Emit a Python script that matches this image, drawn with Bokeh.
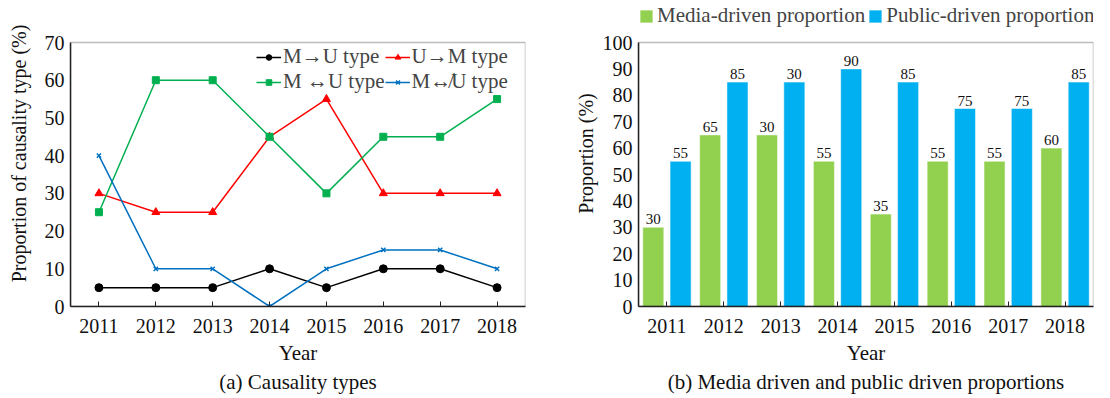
from bokeh.plotting import figure
from bokeh.layouts import row
from bokeh.models import (ColumnDataSource, FixedTicker, Legend, LegendItem,
                          Range1d, FactorRange, Title, BoxAnnotation)
from bokeh.transform import dodge
from bokeh.embed import file_html
from bokeh.resources import INLINE

# ---- data -------------------------------------------------------------
years = [2011, 2012, 2013, 2014, 2015, 2016, 2017, 2018]

m_to_u = [5, 5, 5, 10, 5, 10, 10, 5]
u_to_m = [30, 25, 25, 45, 55, 30, 30, 30]
m_bi_u = [25, 60, 60, 45, 30, 45, 45, 55]
m_nbi_u = [40, 10, 10, 0, 10, 15, 15, 10]

media_driven = [30, 65, 65, 55, 35, 55, 55, 60]
public_driven = [55, 85, 85, 90, 85, 75, 75, 85]
media_labels = ["30", "65", "30", "55", "35", "55", "55", "60"]
public_labels = ["55", "85", "30", "90", "85", "75", "75", "85"]

y_ticks_a = [0, 10, 20, 30, 40, 50, 60, 70]
y_ticks_b = [0, 10, 20, 30, 40, 50, 60, 70, 80, 90, 100]

FONT = "Liberation Serif"
INK = "#111111"
W, H = 555, 398
BOTTOM = 92            # space under each frame for ticks, axis title and caption
FRAME_H = H - BOTTOM   # frames run from the very top of each figure
BOX_H = 264            # pixel height of the boxed data area


def style_axes(p, y_max, ylab_standoff):
    for ax in (p.xaxis[0], p.yaxis[0]):
        ax.axis_line_color = "#222222"
        ax.axis_line_width = 1.5
        ax.major_label_text_font = FONT
        ax.major_label_text_font_size = "20px"
        ax.major_label_text_color = INK
        ax.axis_label_text_font = FONT
        ax.axis_label_text_font_size = "20px"
        ax.axis_label_text_font_style = "normal"
        ax.axis_label_text_color = INK
        ax.minor_tick_line_color = None
    p.xaxis.axis_label_text_font_size = "21px"
    p.xaxis.major_tick_in = 5
    p.xaxis.major_tick_out = 0
    p.xaxis.major_tick_line_color = "#222222"
    p.xaxis.major_label_standoff = 12
    p.xaxis.axis_label_standoff = 5
    p.yaxis.major_tick_line_color = None
    p.yaxis.major_tick_in = 0
    p.yaxis.major_tick_out = 0
    p.yaxis.major_label_standoff = 6
    p.yaxis.axis_label_standoff = ylab_standoff
    p.yaxis.bounds = (0, y_max)
    p.outline_line_color = None
    p.xgrid.grid_line_color = None
    p.ygrid.grid_line_color = None
    # boxed plotting area between 0 and the top tick
    p.add_layout(BoxAnnotation(bottom=0, top=y_max, fill_alpha=0,
                               line_color="#222222", line_width=1.5))


def caption(p, text):
    p.add_layout(Title(text=text, align="center", text_font=FONT,
                       text_font_size="21px", text_font_style="normal",
                       text_color=INK, standoff=0, offset=0), "below")


# ---- (a) line chart ---------------------------------------------------
ya_top = y_ticks_a[-1] * FRAME_H / BOX_H
pa = figure(width=W, height=H, output_backend="svg", toolbar_location=None,
            x_range=Range1d(2010.5, 2018.5), y_range=Range1d(0, ya_top),
            min_border_left=70, min_border_right=30, min_border_top=0,
            min_border_bottom=BOTTOM, background_fill_color="white",
            border_fill_color="white")
style_axes(pa, y_ticks_a[-1], 12)
pa.xaxis.ticker = FixedTicker(ticks=years)
pa.yaxis.ticker = FixedTicker(ticks=y_ticks_a)
pa.xaxis.axis_label = "Year"
pa.yaxis.axis_label = "Proportion of causality type (%)"

src_a = ColumnDataSource(dict(year=years, a=m_to_u, b=u_to_m, c=m_bi_u, d=m_nbi_u))

l1 = pa.line("year", "a", source=src_a, color="black", line_width=1.5)
s1 = pa.scatter("year", "a", source=src_a, marker="circle", size=8, color="black")
l2 = pa.line("year", "b", source=src_a, color="#FF0000", line_width=1.5)
s2 = pa.scatter("year", "b", source=src_a, marker="triangle", size=8, color="#FF0000")
l3 = pa.line("year", "c", source=src_a, color="#00B050", line_width=1.5)
s3 = pa.scatter("year", "c", source=src_a, marker="square", size=7, color="#00B050")
l4 = pa.line("year", "d", source=src_a, color="#0070C0", line_width=1.5)
s4 = pa.scatter("year", "d", source=src_a, marker="x", size=6, color="#0070C0",
                line_width=1.5)

# items are filled column by column: left column first, then right column
leg_a = Legend(items=[
    LegendItem(label="M\u2192U type", renderers=[l1, s1]),
    LegendItem(label="M \u2194U type", renderers=[l3, s3]),
    LegendItem(label="U\u2192M type", renderers=[l2, s2]),
    LegendItem(label="M\u21AEU type", renderers=[l4, s4]),
], location=(186, FRAME_H - 94), ncols=2, border_line_color=None,
    background_fill_alpha=0, label_text_font=FONT, label_text_font_size="21px",
    glyph_width=25, glyph_height=14, label_standoff=2, spacing=0,
    padding=0, margin=0, label_height=20, label_text_line_height=0.85)
pa.add_layout(leg_a, "center")
caption(pa, "(a) Causality types")

# ---- (b) grouped bar chart --------------------------------------------
year_f = [str(y) for y in years]
yb_top = y_ticks_b[-1] * FRAME_H / BOX_H
pb = figure(width=W, height=H, output_backend="svg", toolbar_location=None,
            x_range=FactorRange(*year_f), y_range=Range1d(0, yb_top),
            min_border_left=83, min_border_right=17, min_border_top=0,
            min_border_bottom=BOTTOM, background_fill_color="white",
            border_fill_color="white")
style_axes(pb, y_ticks_b[-1], 3)
pb.yaxis.ticker = FixedTicker(ticks=y_ticks_b)
pb.xaxis.axis_label = "Year"
pb.yaxis.axis_label = "Proportion (%)"

src_b = ColumnDataSource(dict(year=year_f, media=media_driven, public=public_driven,
                              mlab=media_labels, plab=public_labels))

bm = pb.vbar(x=dodge("year", -0.24, range=pb.x_range), top="media", width=0.37,
             source=src_b, fill_color="#92D050", line_color="white", line_alpha=0.5)
bp = pb.vbar(x=dodge("year", 0.24, range=pb.x_range), top="public", width=0.37,
             source=src_b, fill_color="#00B0F0", line_color="white", line_alpha=0.5)

pb.text(x=dodge("year", -0.24, range=pb.x_range), y="media", text="mlab",
        source=src_b, text_align="center", text_baseline="bottom", y_offset=-3,
        text_font={"value": FONT}, text_font_size="15px", text_color=INK)
pb.text(x=dodge("year", 0.24, range=pb.x_range), y="public", text="plab",
        source=src_b, text_align="center", text_baseline="bottom", y_offset=-3,
        text_font={"value": FONT}, text_font_size="15px", text_color=INK)

# key above the boxed area
leg_b = Legend(items=[
    LegendItem(label="Media-driven proportion", renderers=[bm]),
    LegendItem(label="Public-driven proportion", renderers=[bp]),
], location=(0, FRAME_H - 28), orientation="horizontal", border_line_color=None,
    background_fill_alpha=0, label_text_font=FONT, label_text_font_size="21px",
    glyph_width=16, glyph_height=16, label_standoff=3, spacing=2,
    padding=0, margin=0, label_height=22)
pb.add_layout(leg_b, "center")
caption(pb, "(b) Media driven and public driven proportions")

layout = row(pa, pb)
open("out.html", "w").write(file_html(layout, INLINE))
